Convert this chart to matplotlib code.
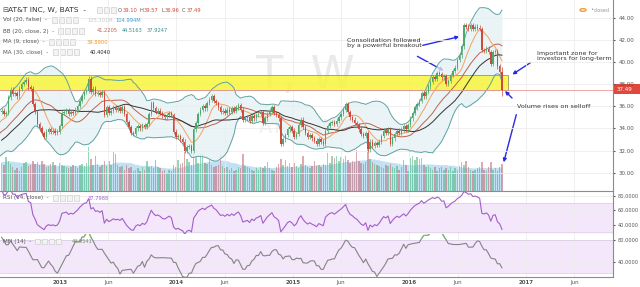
import numpy as np
import pandas as pd
import matplotlib
matplotlib.use('Agg')
import matplotlib.pyplot as plt
import matplotlib.dates as mdates
from matplotlib.patches import Rectangle, FancyArrowPatch

W, H = 640, 287

# weekly closes before the visible window (warm-up for MA / BB / RSI / MFI)
close_pre = [30.5, 30.8, 31.0, 31.2, 31.5, 31.3, 31.6, 31.9, 32.0, 31.8, 32.2, 32.5,
             32.4, 32.8, 33.0, 32.7, 32.9, 33.1, 33.4, 33.2, 33.6, 33.9, 34.2, 34.0,
             34.4, 34.7, 34.9, 35.3, 35.5]
vol_pre = [140, 125, 120, 135, 150, 130, 125, 140, 135, 120, 130, 145, 125, 130, 120,
           135, 140, 125, 130, 150, 145, 135, 140, 150, 145, 160, 150, 145, 155]

# visible weekly closes, first week = 2012-07-02
close_2012 = [35.6, 35.3, 35.4, 36.8, 37.5, 37.1, 37.2, 36.9, 37.6, 38.0, 38.2, 38.4, 37.7,
              37.6, 36.2, 35.5, 34.4, 34.0, 33.6, 33.2, 33.7, 33.9, 33.7, 33.8, 33.6, 33.7]
close_2013 = [34.2, 35.4, 35.5, 35.6, 35.3, 35.5, 35.4, 35.7, 36.0, 36.5, 36.9, 37.3, 37.4,
              38.5, 37.3, 37.6, 37.1, 37.2, 37.0, 37.3, 35.2, 35.9, 35.4, 35.6, 35.9, 35.7,
              35.8, 35.6, 35.9, 35.3, 34.6, 34.1, 33.6, 33.5, 34.0, 34.2, 34.0, 34.3, 34.1,
              34.4, 35.3, 36.3, 35.8, 35.5, 35.6, 35.4, 35.1, 35.0, 35.2, 35.4, 35.2, 33.7, 33.2]
close_2014 = [33.3, 33.0, 32.8, 32.0, 32.3, 32.4, 32.0, 33.9, 34.5, 35.3, 35.7, 36.0, 35.8,
              36.3, 36.6, 36.9, 36.5, 36.3, 35.9, 35.5, 35.6, 35.4, 35.7, 35.5, 35.8, 35.6,
              35.9, 36.1, 35.7, 34.8, 34.9, 35.0, 34.7, 35.1, 34.9, 35.2, 35.3, 35.5, 34.5,
              34.9, 35.3, 35.6, 35.9, 35.4, 35.2, 34.9, 32.6, 33.0, 33.4, 33.9, 34.1, 33.8]
close_2015 = [33.2, 33.5, 34.3, 34.8, 34.1, 33.6, 33.2, 33.4, 33.1, 32.9, 32.6, 33.0, 32.8,
              32.6, 33.8, 34.2, 34.5, 34.6, 34.4, 34.7, 35.0, 35.3, 35.7, 36.2, 35.5, 35.0,
              34.8, 34.5, 34.3, 33.9, 33.5, 33.3, 33.6, 32.1, 32.8, 32.4, 32.7, 32.5, 32.8,
              33.3, 33.8, 33.6, 33.9, 32.6, 33.1, 33.5, 33.8, 33.6, 33.9, 34.2, 33.9, 34.3]
close_2016 = [34.9, 35.4, 35.9, 36.2, 36.5, 37.2, 36.9, 37.3, 37.8, 38.2, 38.6, 38.5, 39.0,
              38.9, 38.6, 38.7, 38.0, 38.3, 38.8, 39.2, 39.5, 40.2, 40.6, 41.4, 43.3, 43.2,
              43.0, 43.3, 43.0, 43.2, 43.1, 43.0, 41.1, 41.0, 41.2, 40.9, 39.8, 40.9, 41.0,
              39.6, 39.1, 37.49]
last_ohlc = (39.10, 39.57, 36.96, 37.49)
wick = 0.2

# weekly volume (millions), visible weeks
volume = [130, 120, 160, 140, 125, 110, 100, 105, 95, 110,
          130, 135, 115, 120, 140, 125, 135, 120, 140, 125,
          110, 115, 125, 135, 120, 80, 130, 120, 115, 110,
          105, 110, 120, 115, 105, 120, 125, 115, 130, 205,
          150, 120, 165, 125, 110, 120, 140, 115, 140, 120,
          185, 175, 120, 110, 115, 100, 120, 105, 110, 95,
          100, 105, 95, 110, 100, 140, 110, 115, 105, 145,
          110, 105, 95, 100, 85, 100, 95, 120, 110, 145,
          125, 130, 210, 150, 135, 120, 210, 160, 130, 175,
          175, 130, 125, 150, 120, 110, 115, 120, 170, 115,
          105, 110, 100, 105, 95, 100, 110, 105, 175, 115,
          110, 105, 100, 95, 105, 100, 110, 105, 115, 135,
          105, 100, 95, 110, 125, 150, 120, 145, 115, 130,
          110, 130, 115, 105, 125, 165, 120, 110, 105, 115,
          140, 115, 120, 110, 125, 120, 180, 130, 165, 155,
          165, 140, 160, 150, 165, 145, 130, 140, 135, 190,
          140, 130, 125, 135, 210, 150, 135, 125, 120, 115,
          110, 105, 120, 115, 125, 110, 105, 115, 100, 110,
          145, 120, 95, 155, 165, 145, 160, 150, 155, 120,
          110, 115, 105, 100, 110, 95, 105, 110, 100, 105,
          100, 110, 95, 105, 100, 115, 135, 120, 140, 110,
          100, 95, 100, 105, 110, 135, 100, 95, 110, 135,
          100, 105, 95, 110, 125]

tick_dates = ['2013-01-01', '2013-06-01', '2014-01-01', '2014-06-01', '2015-01-01',
              '2015-06-01', '2016-01-01', '2016-06-01', '2017-01-01', '2017-06-01']
tick_labels = ['2013', 'Jun', '2014', 'Jun', '2015', 'Jun', '2016', 'Jun', '2017', 'Jun']
price_ticks = [30, 32, 34, 36, 38, 40, 42, 44]

zone_lo, zone_hi, zone_end = 37.45, 38.8, '2016-11-06'

# ---- series ----
vis = close_2012 + close_2013 + close_2014 + close_2015 + close_2016
n_pre, n_vis = len(close_pre), len(vis)
dates_vis = pd.date_range('2012-07-02', periods=n_vis, freq='7D')
dates_pre = pd.date_range(end=dates_vis[0] - pd.Timedelta(days=7), periods=n_pre, freq='7D')
dates = dates_pre.append(dates_vis)

c = pd.Series(close_pre + vis, index=dates)
o = c.shift(1).fillna(c.iloc[0])
o.iloc[-1] = last_ohlc[0]
hi = np.maximum(o, c) + wick
lo = np.minimum(o, c) - wick
hi.iloc[-1], lo.iloc[-1] = last_ohlc[1], last_ohlc[2]
v = pd.Series(vol_pre + volume, index=dates)

ma9 = c.rolling(9).mean()
ma30 = c.rolling(30).mean()
basis = c.rolling(20).mean()
sd = c.rolling(20).std(ddof=0)
upper, lower = basis + 2 * sd, basis - 2 * sd
volma = v.rolling(20, min_periods=1).mean()

d = c.diff()
up = d.clip(lower=0).ewm(alpha=1 / 14, adjust=False).mean()
dn = (-d.clip(upper=0)).ewm(alpha=1 / 14, adjust=False).mean()
rsi = 100 - 100 / (1 + up / dn)

tp = (hi + lo + c) / 3
mf = tp * v
pos = mf.where(tp.diff() > 0, 0).rolling(14).sum()
neg = mf.where(tp.diff() < 0, 0).rolling(14).sum()
mfi = 100 - 100 / (1 + pos / neg)

sl = slice(n_pre, None)
dv = dates[sl]
cv, ov, hv, lv, vv = c[sl], o[sl], hi[sl], lo[sl], v[sl]
up_mask = (cv >= ov).values
col_up, col_dn = '#4fa86b', '#d0493b'
cols = np.where(up_mask, col_up, col_dn)


def fx(x):
    return x / W


def fy(y):
    return 1 - y / H


xmin = mdates.date2num(pd.Timestamp('2012-06-27'))
xmax = mdates.date2num(pd.Timestamp('2017-09-30'))
grid_c = '#ececec'
sep_c = '#8c8c8c'
txt_c = '#555555'

fig = plt.figure(figsize=(W / 100, H / 100), dpi=100)
ax = fig.add_axes([0, fy(190.7), fx(613), 190.7 / H])
ax_v = ax.twinx()
ax.set_zorder(2)
ax_v.set_zorder(1)
ax.patch.set_visible(False)

# volume
ax_v.fill_between(dv, 0, volma[sl], color='#a8d6f0', alpha=0.7, lw=0, zorder=1)
ax_v.bar(dv, vv, width=4.6, color=np.where(up_mask, '#45b37a', '#c2646e'), alpha=0.55, lw=0, zorder=2)
ax_v.set_ylim(0, 900)
ax_v.set_yticks([])
for s in ax_v.spines.values():
    s.set_visible(False)

# price
ax.fill_between(dates, lower, upper, color='#e4f1f4', alpha=0.75, lw=0, zorder=1)
ax.add_patch(Rectangle((xmin - 10, zone_lo), mdates.date2num(pd.Timestamp(zone_end)) - xmin + 10,
                       zone_hi - zone_lo, facecolor='#f7f53c', edgecolor='#8a8a45', lw=0.6,
                       alpha=0.85, zorder=2))
ax.plot(dates, upper, color='#5fa3a3', lw=0.7, zorder=3)
ax.plot(dates, lower, color='#5fa3a3', lw=0.7, zorder=3)
ax.plot(dates, basis, color='#c0614f', lw=0.7, zorder=3)
ax.plot(dates, ma9, color='#f5a25d', lw=0.7, zorder=3)
ax.plot(dates, ma30, color='#333333', lw=0.7, zorder=3)
ax.vlines(dv, lv, hv, color=cols, lw=0.5, zorder=4)
body_lo = np.minimum(ov, cv)
body_h = np.maximum(np.abs(cv - ov), 0.06)
ax.bar(dv, body_h, bottom=body_lo, width=4.6, color=cols, lw=0, zorder=5)
ax.axhline(last_ohlc[3], color='#e79a9a', lw=0.6, zorder=3)

ax.text(0.497, 0.605, 'T, W', transform=ax.transAxes, fontsize=32, color='#e9e9e9',
        ha='center', va='center', zorder=0)
ax.text(0.497, 0.33, 'AT&T INC', transform=ax.transAxes, fontsize=14, color='#f1f1f1',
        ha='center', va='center', zorder=0)

ax.set_xlim(xmin, xmax)
ax.set_ylim(28.37, 45.60)
ax.yaxis.tick_right()
ax.set_yticks(price_ticks)
ax.set_yticklabels(['%.2f' % t for t in price_ticks])
ax.tick_params(axis='y', labelsize=4.0, colors=txt_c, length=1.5, pad=2.5)
ax.tick_params(axis='x', length=0, labelbottom=False)
ax.set_xticks(mdates.date2num(pd.to_datetime(tick_dates)))
ax.grid(color=grid_c, lw=0.6)
ax.set_axisbelow(True)
for k, s in ax.spines.items():
    s.set_visible(k in ('right', 'bottom'))
    s.set_color(sep_c)
    s.set_linewidth(0.8)

# RSI panel
ax_r = fig.add_axes([0, fy(234), fx(613), 43.3 / H])
ax_r.axhspan(30, 70, color='#f4e6fb', lw=0, zorder=0)
ax_r.axhline(70, color='#d9c8e6', lw=0.5)
ax_r.axhline(30, color='#d9c8e6', lw=0.5)
ax_r.plot(dv, rsi[sl], color='#a35fc9', lw=0.8, zorder=3)
ax_r.set_ylim(27.7, 86.8)
ax_r.set_yticks([40, 60, 80])
ax_r.set_yticklabels(['40.0000', '60.0000', '80.0000'])

# MFI panel
ax_m = fig.add_axes([0, fy(277), fx(613), 43 / H])
ax_m.axhspan(20, 80, color='#f4e6fb', lw=0, zorder=0)
ax_m.axhline(80, color='#d9c8e6', lw=0.5)
ax_m.axhline(20, color='#d9c8e6', lw=0.5)
mv = mfi[sl]
ax_m.plot(dv, mv, color='#858585', lw=0.8, zorder=3)
ax_m.plot(dv, mv.where(mv >= 80), color='#7cc46a', lw=0.8, zorder=4)
ax_m.set_ylim(11.8, 91.1)
ax_m.set_yticks([40, 80])
ax_m.set_yticklabels(['40.0000', '80.0000'])

for a in (ax_r, ax_m):
    a.set_xlim(xmin, xmax)
    a.yaxis.tick_right()
    a.tick_params(axis='y', labelsize=3.6, colors=txt_c, length=1.5, pad=2)
    a.set_xticks(mdates.date2num(pd.to_datetime(tick_dates)))
    a.tick_params(axis='x', length=0, labelbottom=False)
    a.grid(color=grid_c, lw=0.6)
    a.set_axisbelow(True)
    for k, s in a.spines.items():
        s.set_visible(k in ('right', 'bottom'))
        s.set_color(sep_c)
        s.set_linewidth(0.8)

ax_m.tick_params(axis='x', labelbottom=True, labelsize=4.0, colors=txt_c, pad=2.5)
ax_m.set_xticklabels(tick_labels)
for lab in ax_m.get_xticklabels():
    if lab.get_text().isdigit():
        lab.set_fontweight('bold')

# legend rows


def boxes(x0, y, n, pitch=7):
    for k in range(n):
        fig.add_artist(Rectangle((fx(x0 + k * pitch), fy(y + 2.6)), 5.2 / W, 5.2 / H,
                                 transform=fig.transFigure, facecolor='#f3f3f3',
                                 edgecolor='#cfcfcf', lw=0.5))


def txt(x, y, s, color=txt_c, size=4.1, **kw):
    fig.text(fx(x), fy(y), s, color=color, fontsize=size, ha='left', va='center', **kw)


txt(2, 10, '\u229f', size=5)
txt(8, 10, 'AT&T INC, W, BATS  -', color='#333333', size=5.4)
boxes(97, 10, 3)
vs = 3.7
txt(118, 10, 'O', size=vs)
txt(122.5, 10, '39.10', color='#d0493b', size=vs)
txt(140, 10, 'H', size=vs)
txt(144, 10, '39.57', color='#d0493b', size=vs)
txt(161, 10, 'L', size=vs)
txt(165, 10, '36.96', color='#d0493b', size=vs)
txt(182, 10, 'C', size=vs)
txt(186.5, 10, '37.49', color='#d0493b', size=vs)

txt(3, 20, 'Vol (20, false)  -')
boxes(52, 20, 4)
txt(87, 20, '105.301M', color='#c8c8c8', size=vs)
txt(115, 20, '104.994M', color='#3b9fd8', size=vs)
txt(3, 31, 'BB (20, close, 2)  -')
boxes(58, 31, 4)
txt(96.5, 31, '41.2205', color='#c0614f', size=vs)
txt(122, 31, '44.5163', color='#3d8f8f', size=vs)
txt(146.5, 31, '37.9247', color='#3d8f8f', size=vs)
txt(3, 42, 'MA (9, close)  -')
boxes(49, 42, 4)
txt(87, 42, '39.8900', color='#f39c12', size=vs)
txt(3, 52, 'MA (30, close)  -')
boxes(53, 52, 4)
txt(90, 52, '40.4040', color='#222222', size=vs)
txt(3, 198, 'RSI (14, close)  -')
boxes(53, 198, 4)
txt(88, 198, '37.7988', color='#a35fc9', size=vs)
txt(3, 241.5, 'MFI (14)  -')
boxes(35, 241.5, 4)
txt(72, 241.5, '44.9541', color='#6f9a55', size=vs)

# market status and last price tag
fig.add_artist(plt.Circle((fx(583), fy(10)), 3 / W, transform=fig.transFigure,
                          facecolor='white', edgecolor='#f39c3c', lw=1.0))
txt(590, 10, '\u2022', color='#999999', size=4)
txt(594, 10, 'closed', color='#999999', size=3.6)
fig.add_artist(Rectangle((fx(614), fy(94.3)), 26 / W, 10 / H, transform=fig.transFigure,
                         facecolor='#e0483e', edgecolor='none'))
txt(617, 89.3, '37.49', color='white', size=4.0)

# annotations
ann_c = '#333333'
arr_c = '#2a2ae6'
fig.text(fx(347), fy(37.5), 'Consolidation followed\nby a powerful breakout', fontsize=4.6,
         color=ann_c, ha='left', va='top', linespacing=1.05)
fig.text(fx(537), fy(51), 'Important zone for\ninvestors for long-term', fontsize=4.6,
         color=ann_c, ha='left', va='top', linespacing=1.05)
fig.text(fx(517), fy(107), 'Volume rises on selloff', fontsize=4.6, color=ann_c,
         ha='left', va='center')
for (x0, y0), (x1, y1) in [((420, 46), (462, 36)), ((415, 55), (446, 72)),
                           ((533, 61), (510, 76)), ((514, 100), (503, 89)),
                           ((517, 112), (503, 165))]:
    fig.add_artist(FancyArrowPatch((fx(x0), fy(y0)), (fx(x1), fy(y1)), transform=fig.transFigure,
                                   arrowstyle='-|>', mutation_scale=5, color=arr_c, lw=1.0))

fig.savefig('out.png', dpi=100)
